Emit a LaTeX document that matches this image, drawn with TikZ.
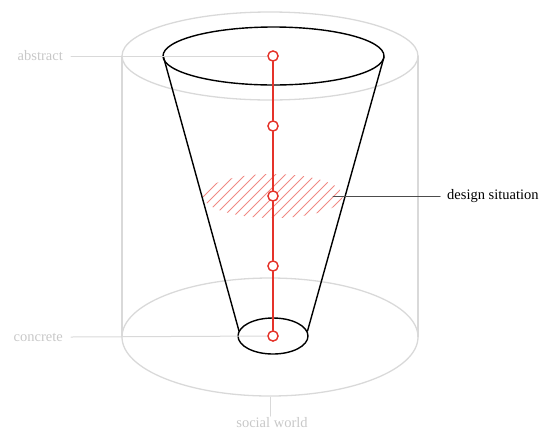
\documentclass[tikz,border=0pt]{standalone}
\usepackage{fontspec}
\setmainfont{Liberation Serif}
\definecolor{shade}{HTML}{D9D9D9}
\definecolor{labelgray}{HTML}{C8C8C8}
\definecolor{redline}{HTML}{E5332A}
\definecolor{hatchred}{HTML}{F08A84}
\begin{document}
\begin{tikzpicture}[x=1pt, y=-1pt, line cap=round, line join=round,
    world/.style={draw=shade, line width=1.3pt},
    cone/.style={draw=black, line width=1.4pt},
    level/.style={circle, draw=redline, fill=white, line width=1.3pt, minimum size=10pt, inner sep=0pt},
    lab/.style={font=\fontsize{14.5}{16}\selectfont, text=labelgray, inner sep=1pt},
    lead/.style={draw=shade, line width=1pt}]
  \useasboundingbox (0,0) rectangle (553,437);
  % social world cylinder
  \draw[world] (270,56) ellipse [x radius=148pt, y radius=44pt];
  \draw[world] (270,337) ellipse [x radius=148pt, y radius=59pt];
  \draw[world] (122,56) -- (122,337);
  \draw[world] (418,56) -- (418,337);
  % design situation hatch
  \begin{scope}
    \clip (273,196) ellipse [x radius=70pt, y radius=22pt];
    \foreach \i in {0,...,22}
      \draw[hatchred, line width=0.8pt] (160+10*\i,230) -- ++(60,-60);
  \end{scope}
  % labels and leaders
  \node[lab, anchor=east] (abs) at (64,56) {abstract};
  \node[lab, anchor=east] (con) at (64,337) {concrete};
  \node[lab, anchor=north] (soc) at (272,416) {social world};
  \coordinate (socTop) at (270,397);
  % cone
  \draw[cone] (273.5,56) ellipse [x radius=110.5pt, y radius=29pt];
  \draw[cone] (273,336) ellipse [x radius=35pt, y radius=18pt];
  \draw[cone] (163.5,57) -- (239,331);
  \draw[cone] (384,57) -- (307.5,331);
  % levels
  \node[level] (l1) at (273,56) {};
  \node[level] (l2) at (273,126) {};
  \node[level] (l3) at (273,196) {};
  \node[level] (l4) at (273,266) {};
  \node[level] (l5) at (273,336) {};
  \draw[lead] (abs.east) ++(7,0) -- (l1.west);
  \draw[lead] (con.east) ++(7,0) -- (l5.west);
  \draw[lead] (socTop) -- (soc.north -| socTop);
  \draw[redline, line width=1.3pt] (l1) -- (l2) -- (l3) -- (l4) -- (l5);
  \foreach \n in {l1,l2,l3,l4,l5} \node[level] at (\n) {};
  % design situation
  \node[font=\fontsize{14.5}{16}\selectfont, anchor=west, inner sep=1pt] (ds) at (446,196) {design situation};
  \coordinate (dsIn) at (333,196);
  \draw[draw=black!70, line width=1pt] (dsIn) -- ([xshift=-6pt]ds.west);
\end{tikzpicture}
\end{document}
